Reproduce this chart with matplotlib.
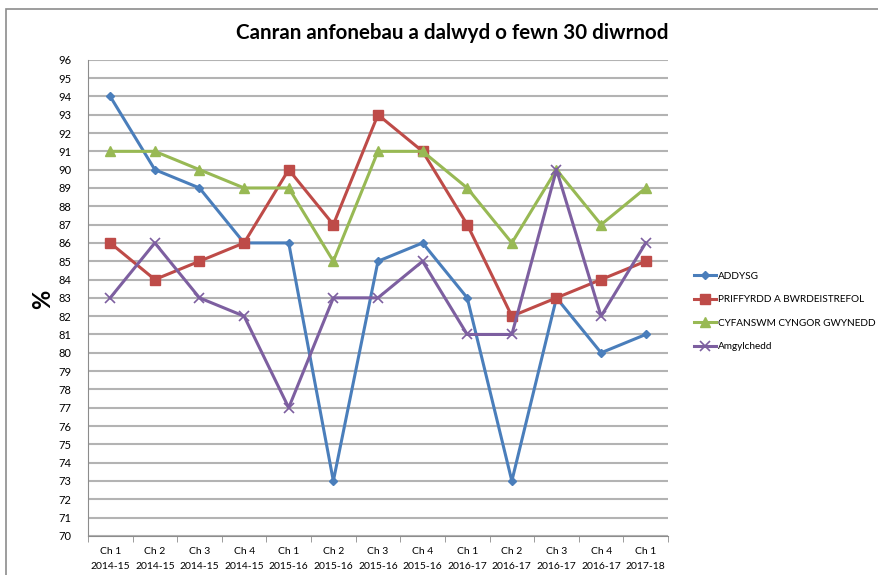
import matplotlib.pyplot as plt
from matplotlib.patches import Rectangle

# data
cats = ["Ch 1\n2014-15", "Ch 2\n2014-15", "Ch 3\n2014-15", "Ch 4\n2014-15",
        "Ch 1\n2015-16", "Ch 2\n2015-16", "Ch 3\n2015-16", "Ch 4\n2015-16",
        "Ch 1\n2016-17", "Ch 2\n2016-17", "Ch 3\n2016-17", "Ch 4\n2016-17",
        "Ch 1\n2017-18"]
addysg = [94, 90, 89, 86, 86, 73, 85, 86, 83, 73, 83, 80, 81]
priffyrdd = [86, 84, 85, 86, 90, 87, 93, 91, 87, 82, 83, 84, 85]
cyfanswm = [91, 91, 90, 89, 89, 85, 91, 91, 89, 86, 90, 87, 89]
amgylchedd = [83, 86, 83, 82, 77, 83, 83, 85, 81, 81, 90, 82, 86]

plt.rcParams['font.family'] = ['Lato', 'DejaVu Sans']

fig = plt.figure(figsize=(8.79, 5.75), dpi=100)
ax = fig.add_axes([0.1, 0.068, 0.66, 0.828])

# outer chart frame
fig.patches.append(Rectangle((6/879, -0.1), 1.2, 1 - 9/575 + 0.1, transform=fig.transFigure,
                             fill=False, edgecolor='#8c8c8c', linewidth=1.2))

x = range(len(cats))
ax.plot(x, addysg, color='#4A7EBB', lw=2.2, marker='D', ms=4.5, label='ADDYSG')
ax.plot(x, priffyrdd, color='#BE4B48', lw=2.2, marker='s', ms=6.5, label='PRIFFYRDD A BWRDEISTREFOL')
ax.plot(x, cyfanswm, color='#98B954', lw=2.2, marker='^', ms=6.5, label='CYFANSWM CYNGOR GWYNEDD')
ax.plot(x, amgylchedd, color='#7D5FA0', lw=2.2, marker='x', ms=7.5, mew=1.2, label='Amgylchedd')

ax.set_xlim(-0.5, len(cats) - 0.5)
ax.set_ylim(70, 96)
ax.set_yticks(range(70, 97))
ax.set_xticks(list(x))
ax.set_xticklabels(cats, fontsize=7.5, linespacing=1.9)
ax.set_xticks([i + 0.5 for i in range(-1, len(cats))], minor=True)
ax.tick_params(axis='x', which='major', length=0, pad=8)
ax.tick_params(axis='x', which='minor', length=4, color='#8c8c8c')
ax.tick_params(axis='y', length=0, labelsize=8, pad=12)
ax.grid(axis='y', color='#b3b3b3', lw=1.5)
ax.set_axisbelow(True)
for s in ['top', 'right']:
    ax.spines[s].set_visible(False)
for s in ['left', 'bottom']:
    ax.spines[s].set_color('#8c8c8c')

fig.text(0.514, 0.943, "Canran anfonebau a dalwyd o fewn 30 diwrnod", ha='center', va='center',
         fontsize=14.8, fontweight='bold')
fig.text(0.048, 0.48, "%", rotation=90, ha='center', va='center', fontsize=17, fontweight='bold')

fig.legend(loc='center left', bbox_to_anchor=(0.779, 0.458), frameon=False, fontsize=7.2,
           handlelength=2.2, handletextpad=0.2, labelspacing=1.45)

fig.savefig('out.png', dpi=100)
